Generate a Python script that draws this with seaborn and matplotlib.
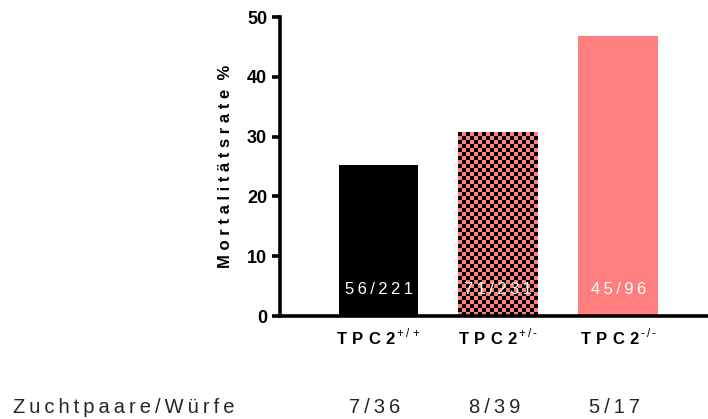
import numpy as np
import matplotlib
matplotlib.use('Agg')
import matplotlib.pyplot as plt
from matplotlib.colors import ListedColormap
import seaborn as sns

## 데이터
genotypes = ['+/+', '+/-', '-/-']
mortality = [25.3, 30.7, 46.9]
bar_labels = ['56/221', '71/231', '45/96']
breeding = ['7/36', '8/39', '5/17']
bar_colors = ['#000000', '#FF7F7F', '#FF7F7F']

sns.set_style('ticks')
plt.rcParams['font.family'] = ['Liberation Sans', 'DejaVu Sans']
plt.rcParams['mathtext.fontset'] = 'custom'
plt.rcParams['mathtext.rm'] = 'Liberation Sans'
plt.rcParams['mathtext.bf'] = 'Liberation Sans:bold'

THIN = '\u2009'


def spaced(s):
    return THIN.join(s)


fig = plt.figure(figsize=(7.08, 4.19), dpi=100)
ax = fig.add_axes([0.395, 0.2458, 0.605, 0.7136])

ax = sns.barplot(x=genotypes, y=mortality, hue=genotypes, palette=bar_colors,
                 legend=False, width=0.667, saturation=1, linewidth=0, ax=ax)

ax.set_xlim(-0.825, 2.75)
ax.set_ylim(0, 50)

## 체크무늬 (TPC2 +/-)
fig.canvas.draw()
p = ax.patches[1]
x0, y0, w, h = p.get_x(), p.get_y(), p.get_width(), p.get_height()
(px0, py0), (px1, py1) = ax.transData.transform([(x0, y0), (x0 + w, y0 + h)])
ncols = 20
nrows = int(round(ncols * (py1 - py0) / (px1 - px0)))
board = np.add.outer(np.arange(nrows), np.arange(ncols)) % 2
im = ax.imshow(board, extent=[x0, x0 + w, y0, y0 + h], origin='lower',
               cmap=ListedColormap(['#FF7F7F', '#000000']),
               interpolation='nearest', aspect='auto', zorder=p.get_zorder() + 0.1)
im.set_clip_path(p)
ax.set_xlim(-0.825, 2.75)
ax.set_ylim(0, 50)

## 막대 안의 숫자
for i, lab in enumerate(bar_labels):
    ax.text(i, 4.5, spaced(lab), color='white', ha='center', va='center',
            fontsize=12, zorder=5)

sns.despine(ax=ax)
for s in ['left', 'bottom']:
    ax.spines[s].set_linewidth(2.6)
    ax.spines[s].set_color('black')
ax.tick_params(axis='y', length=6, width=2.6, labelsize=13, pad=3,
               colors='black')
ax.tick_params(axis='x', length=0, pad=8, colors='black')
ax.set_yticks([0, 10, 20, 30, 40, 50])
for t in ax.get_yticklabels():
    t.set_fontweight('bold')

ax.set_xticks(range(3))
xt = []
for g in genotypes:
    sup = g.replace('-', '\u2010').replace('/', r'\,/\,')
    xt.append(r'$\mathbf{T\ P\ C\ 2}^{\,\mathrm{' + sup + '}}$')
ax.set_xticklabels(xt, fontsize=12)

ax.set_ylabel(' '.join('Mortalitätsrate') + '  %', fontsize=12,
              fontweight='bold', labelpad=10, color='black')
ax.set_xlabel('')

## 아래쪽 줄 (Zuchtpaare/Würfe)
fig.text(13 / 708, 6 / 419, spaced('Zuchtpaare/Würfe'), fontsize=14.5,
         ha='left', va='baseline')
for i, b in enumerate(breeding):
    xf = fig.transFigure.inverted().transform(ax.transData.transform((i, 0)))[0]
    fig.text(xf - 0.005, 6 / 419, spaced(b), fontsize=14.5, ha='center', va='baseline')

fig.savefig('out.png', dpi=100)
